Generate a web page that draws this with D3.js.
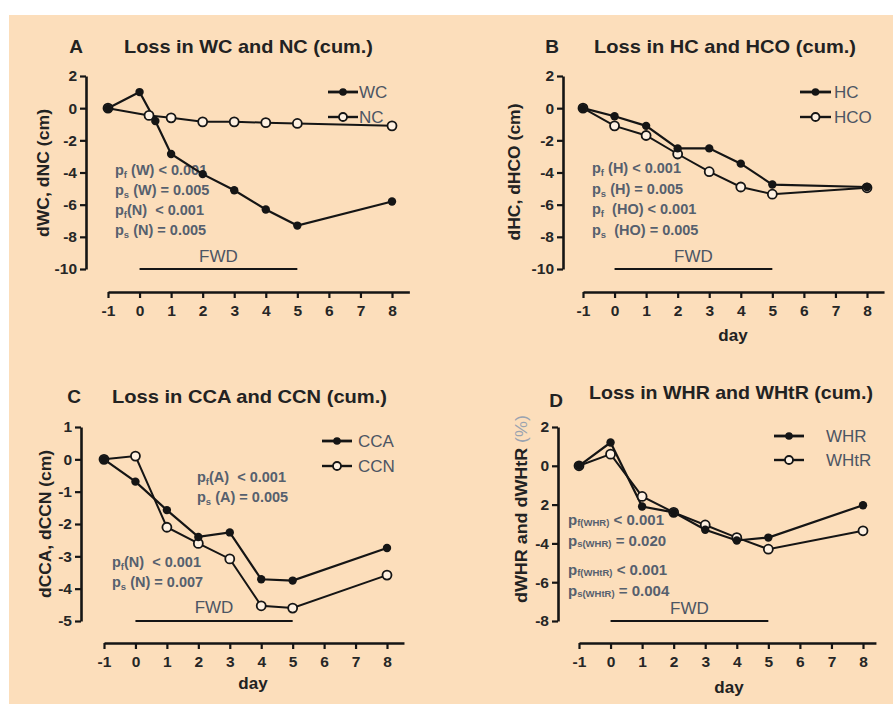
<!DOCTYPE html>
<html><head><meta charset="utf-8">
<script src="https://cdn.jsdelivr.net/npm/d3@7"></script>
<style>
body{margin:0;background:#fff;}
svg{display:block;}
text{font-family:"Liberation Sans",Arial,sans-serif;}
.pt{white-space:pre;}
</style></head>
<body>
<svg id="chart" width="893" height="704"></svg>
<script>
// ---------- DATA ----------
const days = [-1, 0, 1, 2, 3, 4, 5, 8];
const xTicks = [-1, 0, 1, 2, 3, 4, 5, 6, 7, 8];

// Panel A
const wcDays = [-1, 0, 0.5, 1, 2, 3, 4, 5, 8];
const wcValues = [0, 1.0, -0.8, -2.85, -4.1, -5.1, -6.3, -7.3, -5.8];
const ncDays = [-1, 0.3, 1, 2, 3, 4, 5, 8];
const ncValues = [0, -0.45, -0.6, -0.85, -0.85, -0.9, -0.95, -1.1];
// Panel B
const hcValues = [0, -0.5, -1.1, -2.5, -2.5, -3.45, -4.75, -4.9];
const hcoValues = [0, -1.1, -1.7, -2.85, -3.95, -4.9, -5.35, -4.95];
// Panel C
const ccaValues = [0, -0.69, -1.57, -2.4, -2.26, -3.71, -3.75, -2.74];
const ccnValues = [0, 0.1, -2.1, -2.6, -3.08, -4.53, -4.6, -3.58];
// Panel D
const whrValues = [0, 1.2, -2.1, -2.4, -3.3, -3.85, -3.7, -2.03];
const whtrValues = [0, 0.6, -1.58, -2.4, -3.05, -3.7, -4.3, -3.35];

const yTicksAB = [2, 0, -2, -4, -6, -8, -10];
const yTicksC = [1, 0, -1, -2, -3, -4, -5];
const yTicksD = [2, 0, -2, -4, -6, -8];
const yTickLabelsD = ["2", "0", "2", "-4", "-6", "-8"];

const panelLetters = ["A", "B", "C", "D"];
const panelTitles = ["Loss in WC and NC (cum.)", "Loss in HC and HCO (cum.)", "Loss in CCA and CCN (cum.)", "Loss in WHR and WHtR (cum.)"];
const yLabels = ["dWC, dNC (cm)", "dHC, dHCO (cm)", "dCCA, dCCN (cm)", "dWHR and dWHtR "];
const seriesNames = [["WC", "NC"], ["HC", "HCO"], ["CCA", "CCN"], ["WHR", "WHtR"]];
const fwdLabel = "FWD";
const xLabel = "day";
// p-value annotations: [sub, rest]
const pTextsA = [["f", " (W) < 0.001"], ["s", " (W) = 0.005"], ["f", "(N)  < 0.001"], ["s", " (N) = 0.005"]];
const pTextsB = [["f", " (H) < 0.001"], ["s", " (H) = 0.005"], ["f", "  (HO) < 0.001"], ["s", "  (HO) = 0.005"]];
const pTextsC1 = [["f", "(A)  < 0.001"], ["s", " (A) = 0.005"]];
const pTextsC2 = [["f", "(N)  < 0.001"], ["s", " (N) = 0.007"]];
const pTextsD = [["f", "(WHR)", " < 0.001"], ["s", "(WHR)", " = 0.020"], ["f", "(WHtR)", " < 0.001"], ["s", "(WHtR)", " = 0.004"]];

// ---------- DRAW ----------
const svg = d3.select("#chart");
svg.append("rect").attr("x", 9).attr("y", 15).attr("width", 884).attr("height", 689).attr("fill", "#FCDEBB");

const INK = "#151515", GREY = "#4c5563";

const panels = [
  {letter: panelLetters[0], title: panelTitles[0], letterPos: [76, 53], titleX: 124, titleW: 249, titleY: 53,
   x0: 108, x8: 392, xEnd: 8.55, yDom: [-10, 2], yR: [269, 76], ax: 86, ay: 292, yTicks: yTicksAB,
   ylab: yLabels[0], ylabPos: [49, 173], ylabW: 128, xlab: null,
   s1: {x: wcDays, y: wcValues}, s2: {x: ncDays, y: ncValues}, names: seriesNames[0],
   leg: {x1: 328, x2: 358, tx: 359, y1: 92, y2: 117}, fwdY: 262,
   ptexts: [{x: 115, y: 175, rows: pTextsA, dy: 20}]},
  {letter: panelLetters[1], title: panelTitles[1], letterPos: [552, 53], titleX: 594, titleW: 262, titleY: 53,
   x0: 583, x8: 867, xEnd: 8.54, yDom: [-10, 2], yR: [269, 76], ax: 563, ay: 292, yTicks: yTicksAB,
   ylab: yLabels[1], ylabPos: [520, 172], ylabW: 137, xlab: [733, 341],
   s1: {x: days, y: hcValues}, s2: {x: days, y: hcoValues}, names: seriesNames[1],
   leg: {x1: 800, x2: 831, tx: 834, y1: 92, y2: 117}, fwdY: 262,
   ptexts: [{x: 592, y: 173, rows: pTextsB, dy: 20.7}]},
  {letter: panelLetters[2], title: panelTitles[2], letterPos: [74, 403], titleX: 112, titleW: 275, titleY: 403,
   x0: 104, x8: 387, xEnd: 8.54, yDom: [-5, 1], yR: [621, 427], ax: 81, ay: 643, yTicks: yTicksC,
   ylab: yLabels[2], ylabPos: [51, 524], ylabW: 148, xlab: [253, 689],
   s1: {x: days, y: ccaValues}, s2: {x: days, y: ccnValues}, names: seriesNames[2],
   leg: {x1: 322, x2: 352, tx: 358, y1: 441, y2: 466}, fwdY: 613,
   ptexts: [{x: 197, y: 482, rows: pTextsC1, dy: 20}, {x: 112, y: 567, rows: pTextsC2, dy: 20}]},
  {letter: panelLetters[3], title: panelTitles[3], letterPos: [556, 407], titleX: 589, titleW: 284, titleY: 399,
   x0: 579, x8: 863, xEnd: 8.41, yDom: [-8, 2], yR: [621, 427], ax: 558, ay: 643, yTicks: yTicksD, yTickLabels: yTickLabelsD,
   ylab: yLabels[3], ylabPos: [527, 509], ylabW: 188, pct: true, xlab: [729, 693],
   s1: {x: days, y: whrValues}, s2: {x: days, y: whtrValues}, names: seriesNames[3],
   leg: {x1: 774, x2: 804, tx: 826, y1: 436, y2: 460}, fwdY: 614,
   ptexts: [{x: 568, y: 525, rowsD: pTextsD, ys: [525, 546, 575, 596]}]}
];

panels.forEach(p => {
  const g = svg.append("g");
  const unit = (p.x8 - p.x0) / 9;
  const x = d3.scaleLinear().domain([-1, p.xEnd]).range([p.x0, p.x0 + (p.xEnd + 1) * unit]);
  const y = d3.scaleLinear().domain(p.yDom).range(p.yR);

  // titles
  g.append("text").attr("x", p.letterPos[0]).attr("y", p.letterPos[1]).attr("text-anchor", "middle")
    .attr("font-size", 19).attr("font-weight", "bold").attr("fill", "#222").text(p.letter);
  g.append("text").attr("x", p.titleX).attr("y", p.titleY).attr("font-size", 19).attr("font-weight", "bold")
    .attr("fill", "#222").attr("textLength", p.titleW).attr("lengthAdjust", "spacingAndGlyphs").text(p.title);

  // axes
  const yAxis = d3.axisLeft(y).tickValues(p.yTicks).tickSize(6).tickSizeOuter(0).tickPadding(3)
    .tickFormat((d, i) => p.yTickLabels ? p.yTickLabels[i] : String(d));
  const ya = g.append("g").attr("transform", `translate(${p.ax},0)`).call(yAxis);
  const xAxis = d3.axisBottom(x).tickValues(xTicks).tickSize(6).tickSizeOuter(0).tickPadding(7)
    .tickFormat(d => String(d));
  const xa = g.append("g").attr("transform", `translate(0,${p.ay})`).call(xAxis);
  [ya, xa].forEach(a => {
    a.select(".domain").attr("stroke", INK).attr("stroke-width", 2.6);
    a.selectAll(".tick line").attr("stroke", INK).attr("stroke-width", 2.2);
    a.selectAll(".tick text").attr("font-size", 15.5).attr("font-weight", "bold").attr("fill", "#262626")
      .attr("font-family", "'Liberation Sans',Arial,sans-serif");
  });

  // y label
  const yl = g.append("text").attr("transform", `translate(${p.ylabPos[0]},${p.ylabPos[1]}) rotate(-90)`)
    .attr("text-anchor", "middle").attr("font-size", 17).attr("font-weight", "bold").attr("fill", "#222");
  yl.append("tspan").text(p.ylab);
  if (p.pct) yl.append("tspan").attr("fill", "#9aa3b0").attr("font-weight", "normal").text("(%)");
  yl.attr("textLength", p.ylabW).attr("lengthAdjust", "spacingAndGlyphs");

  if (p.xlab) g.append("text").attr("x", p.xlab[0]).attr("y", p.xlab[1]).attr("text-anchor", "middle")
    .attr("font-size", 17).attr("font-weight", "bold").attr("fill", "#222").text(xLabel);

  // FWD bar
  g.append("line").attr("x1", x(0)).attr("x2", x(5)).attr("y1", y(p.yDom[0])).attr("y2", y(p.yDom[0]))
    .attr("stroke", INK).attr("stroke-width", 2.2);
  g.append("text").attr("x", x(2.5)).attr("y", p.fwdY).attr("text-anchor", "middle").attr("font-size", 17)
    .attr("fill", GREY).text(fwdLabel);

  // p texts
  p.ptexts.forEach(pt => {
    if (pt.rows) {
      pt.rows.forEach((r, i) => {
        const t = g.append("text").attr("class", "pt").attr("x", pt.x).attr("y", pt.y + i * pt.dy).attr("font-size", 14.5)
          .attr("font-weight", "bold").attr("fill", "#56606e");
        t.append("tspan").text("p");
        t.append("tspan").attr("font-size", 9.5).attr("dy", 3).text(r[0]);
        t.append("tspan").attr("dy", -3).text(r[1]);
      });
    } else {
      pt.rowsD.forEach((r, i) => {
        const t = g.append("text").attr("class", "pt").attr("x", pt.x).attr("y", pt.ys[i]).attr("font-size", 15)
          .attr("font-weight", "bold").attr("fill", "#56606e");
        t.append("tspan").text("p");
        t.append("tspan").attr("font-size", 9.5).attr("dy", 1).text(r[0] + r[1]);
        t.append("tspan").attr("dy", -1).text(r[2]);
      });
    }
  });

  // series
  const line = d3.line().x(d => x(d[0])).y(d => y(d[1]));
  const pts1 = p.s1.x.map((d, i) => [d, p.s1.y[i]]);
  const pts2 = p.s2.x.map((d, i) => [d, p.s2.y[i]]);
  g.append("path").datum(pts2).attr("d", line).attr("fill", "none").attr("stroke", INK).attr("stroke-width", 2);
  g.append("path").datum(pts1).attr("d", line).attr("fill", "none").attr("stroke", INK).attr("stroke-width", 2.2);
  g.selectAll(".o").data(pts2).join("circle").attr("cx", d => x(d[0])).attr("cy", d => y(d[1])).attr("r", 4.5)
    .attr("fill", "#FEF1E2").attr("stroke", INK).attr("stroke-width", 1.8);
  g.selectAll(".f").data(pts1).join("circle").attr("cx", d => x(d[0])).attr("cy", d => y(d[1])).attr("r", 4.2)
    .attr("fill", INK);

  // legend
  const L = p.leg;
  g.append("line").attr("x1", L.x1).attr("x2", L.x2).attr("y1", L.y1).attr("y2", L.y1).attr("stroke", INK).attr("stroke-width", 2.8);
  g.append("circle").attr("cx", (L.x1 + L.x2) / 2).attr("cy", L.y1).attr("r", 3.8).attr("fill", INK);
  g.append("line").attr("x1", L.x1).attr("x2", L.x2).attr("y1", L.y2).attr("y2", L.y2).attr("stroke", INK).attr("stroke-width", 2.4);
  g.append("circle").attr("cx", (L.x1 + L.x2) / 2).attr("cy", L.y2).attr("r", 4).attr("fill", "#FEF1E2")
    .attr("stroke", INK).attr("stroke-width", 1.8);
  g.append("text").attr("x", L.tx).attr("y", L.y1 + 6).attr("font-size", 17).attr("fill", GREY).text(p.names[0]);
  g.append("text").attr("x", L.tx).attr("y", L.y2 + 6).attr("font-size", 17).attr("fill", GREY).text(p.names[1]);
});
</script>
</body></html>
